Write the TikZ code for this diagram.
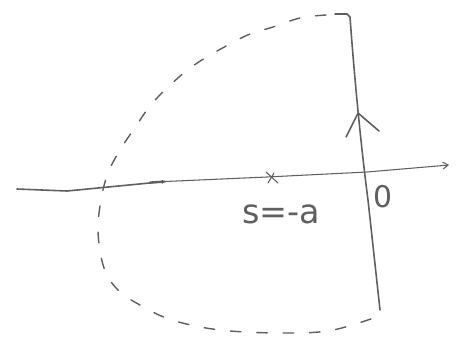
\documentclass[tikz,border=0pt]{standalone}
\usepackage{fontspec}
\newfontfamily\hand{DejaVu Sans}
\usetikzlibrary{arrows.meta}
\definecolor{pencil}{RGB}{95,95,95}
\tikzset{
  pen/.style={draw=pencil, line width=0.9pt, line cap=round, line join=round},
  thinpen/.style={draw=pencil, line width=0.6pt, line cap=round, line join=round},
  dashcurve/.style={draw=pencil, line width=0.8pt, line cap=round, dash pattern=on 6pt off 9pt},
  lbl/.style={text=pencil, inner sep=0pt, font=\hand}
}
\begin{document}
\begin{tikzpicture}[x=0.02cm, y=-0.02cm]
\useasboundingbox (0,0) rectangle (462,349);
\fill[white] (0,0) rectangle (462,349);

% real axis
\coordinate (axL) at (17,189);
\coordinate (axK) at (67,191);
\coordinate (axM) at (165,181.5);
\coordinate (axP) at (267,177);
\coordinate (axO) at (367,172);
\coordinate (axR) at (449,165);
\draw[pen] (axL) -- (axK) -- (axM);
\draw[thinpen, -{Straight Barb[length=3pt,width=4pt]}] (axM) -- (axP) -- (axO) -- (axR);
% small direction mark on axis
\coordinate (dmA) at (150,182.5);
\coordinate (dmB) at (167,181.5);
\draw[pen, line width=1.3pt, -{Latex[length=3pt,width=2.5pt]}] (dmA) -- (dmB);

% pole at s=-a
\coordinate (p1) at (266,172);
\coordinate (p2) at (278,183);
\coordinate (p3) at (268,183);
\coordinate (p4) at (274,173);
\draw[thinpen] (p1) -- (p2) (p3) -- (p4);

% vertical contour
\coordinate (hk) at (335,14);
\coordinate (vt) at (350,17);
\coordinate (vb) at (380,310);
\draw[pen] (hk) -- (347,14) -- (vt) .. controls (356,100) and (364,170) .. (368,200) -- (vb);
% chevron arrow on the vertical line
\coordinate (chA) at (358,113);
\coordinate (chL) at (346,137);
\coordinate (chR) at (379,131);
\draw[pen] (chL) -- (chA) -- (chR);

% dashed large arc
\draw[dashcurve] plot[smooth, tension=0.6] coordinates {
  (326,15) (300,18) (273,27) (250,34) (230,44) (205,58) (185,72)
  (165,90) (150,106) (136,126) (120,150) (108,173) (101,200)
  (98,232) (104,268) (118,290) (140,305) (172,320) (220,330)
  (283,333) (333,330) (385,314)};

% labels
\node[lbl, font=\hand\fontsize{19}{19}\selectfont] (s) at (281,214) {s=-a};
\node[lbl, font=\hand\fontsize{17}{17}\selectfont] (zero) at (383,197) {0};
\end{tikzpicture}
\end{document}
